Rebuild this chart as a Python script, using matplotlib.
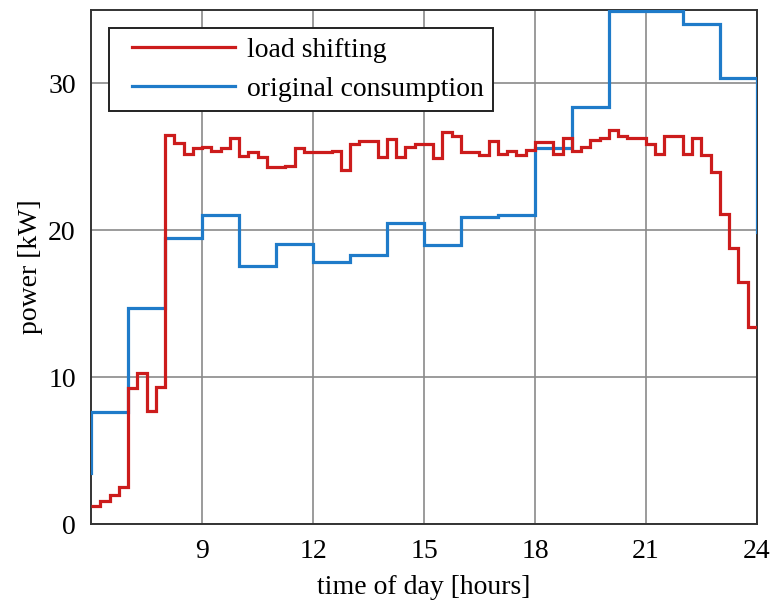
import numpy as np
import matplotlib
matplotlib.use('Agg')
from matplotlib import pyplot as plt
from matplotlib.lines import Line2D
from matplotlib.legend_handler import HandlerLine2D

#%% data
# load shifting: 15 minute resolution, 6:00 .. 24:00
quarter_start = np.arange(6, 24, 0.25)
load_shift = [1.2, 1.6, 2.0, 2.55, 9.25, 10.3, 7.7, 9.35,
              26.5, 25.95, 25.2, 25.6, 25.7, 25.4, 25.6, 26.3,
              25.05, 25.3, 25.0, 24.3, 24.3, 24.4, 25.6, 25.35,
              25.3, 25.3, 25.4, 24.1, 25.9, 26.1, 26.1, 25.0,
              26.2, 25.0, 25.65, 25.9, 25.9, 24.9, 26.7, 26.4,
              25.35, 25.3, 25.1, 26.1, 25.2, 25.4, 25.15, 25.5,
              26.0, 26.0, 25.2, 26.3, 25.4, 25.7, 26.15, 26.3,
              26.8, 26.4, 26.3, 26.3, 25.9, 25.2, 26.45, 26.45,
              25.2, 26.3, 25.1, 24.0, 21.1, 18.8, 16.5, 13.4]

# original consumption: hourly, hour 5 .. hour 24 (outside window clipped)
hour_start = np.arange(5, 25)
original = [3.5, 7.65, 14.7, 19.5, 21.05, 17.6, 19.1, 17.85, 18.35, 20.5,
            19.0, 20.9, 21.05, 25.6, 28.4, 34.9, 34.9, 34.05, 30.4, 19.9]

xticks = [9, 12, 15, 18, 21, 24]
yticks = [0, 10, 20, 30]

#%% plot
plt.rcParams['font.family'] = ['Liberation Serif', 'DejaVu Serif']
plt.rcParams['font.size'] = 20

fig = plt.figure(figsize=(7.74, 6.08), dpi=100)
ax = fig.add_axes([0.1176, 0.138, 0.978 - 0.1176, 0.9836 - 0.138])

red = '#cc1c1c'
blue = '#1f7bc9'

edges_red = np.append(quarter_start, 24)
edges_blue = np.append(hour_start, 25)
ax.stairs(load_shift, edges_red, baseline=None, color=red, lw=2.3, zorder=2.7)
ax.stairs(original, edges_blue, baseline=None, color=blue, lw=2.3, zorder=2.6)

ax.set_xlim(6, 24)
ax.set_ylim(0, 35)
ax.set_xticks(xticks)
ax.set_yticks(yticks)
ax.tick_params(length=0, pad=11)
ax.grid(True, color='#8a8a8a', lw=1.2)
ax.set_axisbelow(True)
for s in ax.spines.values():
    s.set_color('#333333')
    s.set_linewidth(1.4)

ax.set_xlabel('time of day [hours]', labelpad=8)
ax.set_ylabel('power [kW]', labelpad=4)

# legend with proxy lines, handle pushed a bit to the right
handles = [Line2D([], [], color=red, lw=2.3), Line2D([], [], color=blue, lw=2.3)]
labels = ['load shifting', 'original consumption']
hmap = {h: HandlerLine2D(xpad=0.5) for h in handles}
leg = ax.legend(handles, labels, handler_map=hmap, loc='upper left',
                fancybox=False, framealpha=1, edgecolor='#222222',
                handlelength=4.2, handletextpad=0.45, labelspacing=0.5,
                borderaxespad=0.65, borderpad=0.33)
leg.get_frame().set_linewidth(1.4)
leg.set_zorder(5)

fig.savefig('out.png', dpi=100)
